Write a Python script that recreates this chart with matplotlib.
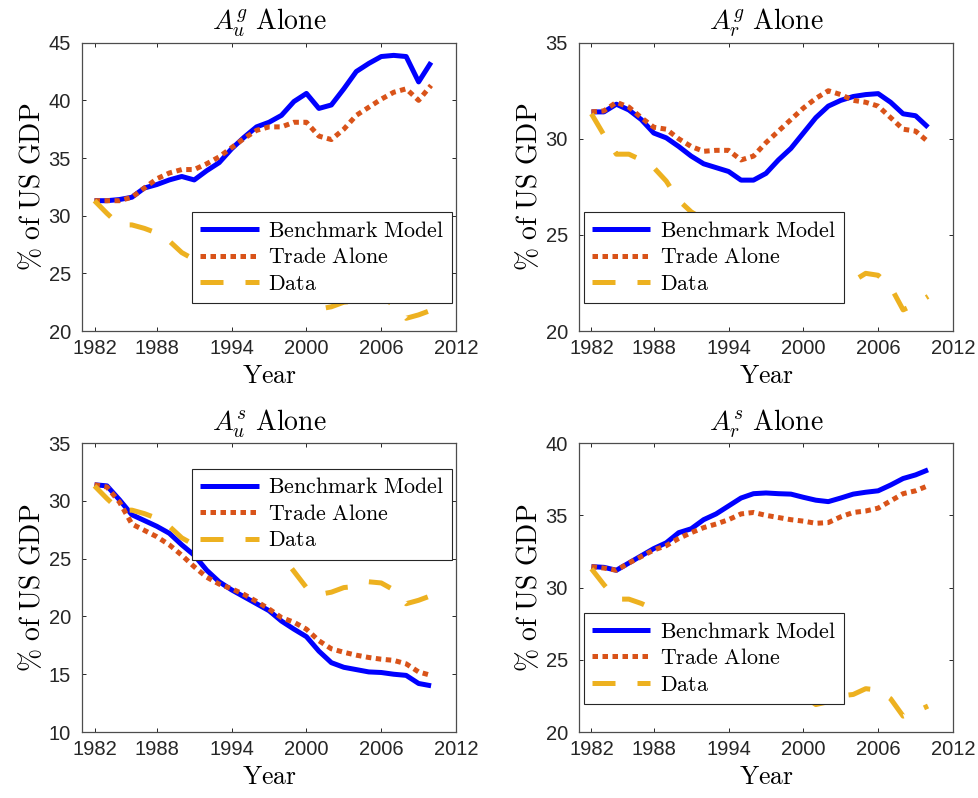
import matplotlib
matplotlib.use("Agg")
import matplotlib.pyplot as plt
import numpy as np

plt.rcParams['font.family'] = ['Liberation Sans', 'DejaVu Sans']
plt.rcParams['mathtext.fontset'] = 'cm'

# x positions of the yearly points (axis runs 1982-2012)
years = np.arange(1983, 2011)
tick_pos = [1983, 1988, 1994, 2000, 2006, 2012]
tick_labels = ['1982', '1988', '1994', '2000', '2006', '2012']

# Data series, identical in every panel
data = [31.3, 30.2, 29.2, 29.2, 28.9, 28.5, 27.8, 26.8, 26.2, 25.8,
        25.7, 25.6, 25.5, 25.5, 25.4, 25.3, 23.9, 22.5, 21.9, 22.1,
        22.5, 22.6, 23.0, 22.9, 22.3, 21.1, 21.4, 21.8]

# A_u^g alone
bench_ug = [31.3, 31.3, 31.4, 31.6, 32.4, 32.7, 33.1, 33.4, 33.1, 33.9,
            34.6, 35.8, 36.8, 37.7, 38.1, 38.7, 39.9, 40.6, 39.3, 39.6,
            41.0, 42.5, 43.2, 43.8, 43.9, 43.8, 41.6, 43.3]
trade_ug = [31.3, 31.3, 31.3, 31.6, 32.4, 33.2, 33.7, 34.0, 34.0, 34.5,
            35.1, 35.9, 36.7, 37.4, 37.7, 37.7, 38.1, 38.1, 36.9, 36.6,
            37.5, 38.7, 39.4, 40.1, 40.7, 41.0, 40.0, 41.3]

# A_r^g alone
bench_rg = [31.4, 31.4, 31.8, 31.5, 31.0, 30.3, 30.05, 29.6, 29.1, 28.7,
            28.5, 28.3, 27.85, 27.85, 28.2, 28.9, 29.5, 30.3, 31.1, 31.7,
            32.0, 32.2, 32.3, 32.35, 31.9, 31.3, 31.2, 30.6]
trade_rg = [31.4, 31.45, 31.9, 31.65, 31.1, 30.6, 30.5, 30.0, 29.6, 29.35,
            29.4, 29.4, 28.9, 29.1, 29.8, 30.4, 31.0, 31.6, 32.1, 32.5,
            32.3, 32.0, 31.9, 31.7, 31.1, 30.5, 30.4, 29.85]

# A_u^s alone
bench_us = [31.4, 31.3, 30.1, 28.8, 28.3, 27.8, 27.2, 26.2, 25.3, 24.0,
            23.0, 22.3, 21.7, 21.1, 20.5, 19.6, 18.9, 18.25, 17.0, 16.0,
            15.6, 15.4, 15.2, 15.15, 15.0, 14.9, 14.2, 14.0]
trade_us = [31.4, 31.2, 29.9, 28.0, 27.45, 26.9, 26.2, 25.3, 24.3, 23.4,
            22.8, 22.4, 21.9, 21.3, 20.65, 19.9, 19.5, 18.9, 17.9, 17.2,
            16.9, 16.65, 16.45, 16.3, 16.2, 15.9, 15.2, 14.9]

# A_r^s alone
bench_rs = [31.45, 31.4, 31.2, 31.7, 32.2, 32.7, 33.1, 33.8, 34.07, 34.7,
            35.1, 35.65, 36.2, 36.5, 36.55, 36.5, 36.47, 36.25, 36.05, 35.95,
            36.2, 36.47, 36.6, 36.7, 37.1, 37.55, 37.8, 38.15]
trade_rs = [31.45, 31.35, 31.2, 31.7, 32.15, 32.6, 32.9, 33.4, 33.8, 34.15,
            34.4, 34.7, 35.1, 35.2, 35.0, 34.85, 34.7, 34.6, 34.45, 34.5,
            34.9, 35.2, 35.3, 35.5, 36.0, 36.5, 36.7, 37.05]

panels = [
    (r'$A_u^g\ \mathrm{Alone}$', bench_ug, trade_ug, (20, 45), 'lower right', (0.989, 0.097)),
    (r'$A_r^g\ \mathrm{Alone}$', bench_rg, trade_rg, (20, 35), 'lower left', (0.013, 0.097)),
    (r'$A_u^s\ \mathrm{Alone}$', bench_us, trade_us, (10, 35), 'upper right', (0.989, 0.91)),
    (r'$A_r^s\ \mathrm{Alone}$', bench_rs, trade_rs, (20, 40), 'lower left', (0.013, 0.097)),
]
rects = [
    [0.0838, 0.5852, 0.3820, 0.3613],
    [0.5914, 0.5852, 0.3820, 0.3613],
    [0.0838, 0.0827, 0.3820, 0.3620],
    [0.5914, 0.0827, 0.3820, 0.3620],
]

fig = plt.figure(figsize=(9.79, 7.98), dpi=100)
lw = 3.6
for (title, bench, trade, ylim, loc, anchor), rect in zip(panels, rects):
    ax = fig.add_axes(rect)
    ax.plot(years, bench, color='#0000ff', lw=lw, solid_capstyle='butt',
            label=r'$\mathrm{Benchmark\ Model}$')
    ax.plot(years, trade, color='#D95319', lw=lw, linestyle=(0, (1.1, 0.9)),
            label=r'$\mathrm{Trade\ Alone}$')
    ax.plot(years, data, color='#EDB120', lw=lw, linestyle=(0, (4.6, 4.4)),
            label=r'$\mathrm{Data}$')
    ax.set_xlim(1982, 2012)
    ax.set_ylim(*ylim)
    ax.set_yticks(np.arange(ylim[0], ylim[1] + 1, 5))
    ax.set_xticks(tick_pos)
    ax.set_xticklabels(tick_labels)
    ax.tick_params(direction='in', length=3, width=0.7, colors='#262626',
                   labelsize=14.5, top=True, right=True, pad=6)
    ax.tick_params(axis='y', pad=8)
    for sp in ax.spines.values():
        sp.set_color('#4d4d4d')
        sp.set_linewidth(0.9)
    ax.set_title(title, fontsize=20, pad=9)
    ax.set_xlabel(r'$\mathrm{Year}$', fontsize=18.5, labelpad=4)
    ax.set_ylabel(r'$\mathrm{\%\ of\ US\ GDP}$', fontsize=20, labelpad=2)
    leg = ax.legend(loc=loc, bbox_to_anchor=anchor, borderaxespad=0,
                    fontsize=15.8, fancybox=False, framealpha=1,
                    edgecolor='#262626', handlelength=2.65, handletextpad=0.42,
                    labelspacing=0.25, borderpad=0.38)
    leg.get_frame().set_linewidth(0.8)

fig.savefig('out.png', dpi=100)
